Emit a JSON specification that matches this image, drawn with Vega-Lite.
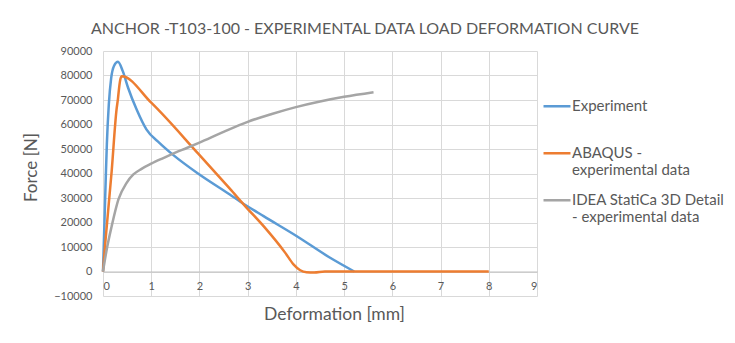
{
  "$schema": "https://vega.github.io/schema/vega-lite/v6.json",
  "autosize": "none",
  "width": 434,
  "height": 245,
  "padding": {"left": 103, "top": 51, "right": 198, "bottom": 47},
  "background": "white",
  "title": {
    "text": "ANCHOR -T103-100 - EXPERIMENTAL DATA LOAD DEFORMATION CURVE",
    "font": "Lato",
    "fontSize": 16,
    "fontWeight": "normal",
    "color": "#595959",
    "anchor": "middle",
    "dx": 45,
    "baseline": "alphabetic",
    "offset": -5
  },
  "config": {
    "view": {"stroke": null},
    "font": "Lato"
  },
  "data": {
    "values": [
      {"series": "Experiment", "d": 0, "f": 0},
      {"series": "Experiment", "d": 0.03, "f": 20000},
      {"series": "Experiment", "d": 0.06, "f": 40000},
      {"series": "Experiment", "d": 0.08, "f": 52000},
      {"series": "Experiment", "d": 0.12, "f": 68000},
      {"series": "Experiment", "d": 0.17, "f": 79000},
      {"series": "Experiment", "d": 0.23, "f": 84000},
      {"series": "Experiment", "d": 0.31, "f": 85600},
      {"series": "Experiment", "d": 0.41, "f": 81800},
      {"series": "Experiment", "d": 0.52, "f": 75000},
      {"series": "Experiment", "d": 0.7, "f": 66000},
      {"series": "Experiment", "d": 0.9, "f": 58000},
      {"series": "Experiment", "d": 1.18, "f": 52300},
      {"series": "Experiment", "d": 1.46, "f": 47500},
      {"series": "Experiment", "d": 1.97, "f": 40000},
      {"series": "Experiment", "d": 2.63, "f": 31400},
      {"series": "Experiment", "d": 2.84, "f": 28600},
      {"series": "Experiment", "d": 3.33, "f": 22600},
      {"series": "Experiment", "d": 4.02, "f": 14400},
      {"series": "Experiment", "d": 4.71, "f": 5600},
      {"series": "Experiment", "d": 5.21, "f": 0},
      {"series": "ABAQUS - experimental data", "d": 0, "f": 0},
      {"series": "ABAQUS - experimental data", "d": 0.04, "f": 10000},
      {"series": "ABAQUS - experimental data", "d": 0.18, "f": 41000},
      {"series": "ABAQUS - experimental data", "d": 0.28, "f": 66000},
      {"series": "ABAQUS - experimental data", "d": 0.31, "f": 70500},
      {"series": "ABAQUS - experimental data", "d": 0.34, "f": 76000},
      {"series": "ABAQUS - experimental data", "d": 0.36, "f": 78500},
      {"series": "ABAQUS - experimental data", "d": 0.39, "f": 79700},
      {"series": "ABAQUS - experimental data", "d": 1.0, "f": 68900},
      {"series": "ABAQUS - experimental data", "d": 1.97, "f": 48200},
      {"series": "ABAQUS - experimental data", "d": 2.63, "f": 33800},
      {"series": "ABAQUS - experimental data", "d": 2.98, "f": 26000},
      {"series": "ABAQUS - experimental data", "d": 3.33, "f": 18500},
      {"series": "ABAQUS - experimental data", "d": 3.78, "f": 7600},
      {"series": "ABAQUS - experimental data", "d": 3.95, "f": 2900},
      {"series": "ABAQUS - experimental data", "d": 4.09, "f": 500},
      {"series": "ABAQUS - experimental data", "d": 4.22, "f": -300},
      {"series": "ABAQUS - experimental data", "d": 4.38, "f": -400},
      {"series": "ABAQUS - experimental data", "d": 4.6, "f": 0},
      {"series": "ABAQUS - experimental data", "d": 5.5, "f": 0},
      {"series": "ABAQUS - experimental data", "d": 6.5, "f": 0},
      {"series": "ABAQUS - experimental data", "d": 8.0, "f": 0},
      {"series": "IDEA StatiCa 3D Detail - experimental data", "d": 0, "f": 0},
      {"series": "IDEA StatiCa 3D Detail - experimental data", "d": 0.077, "f": 9000},
      {"series": "IDEA StatiCa 3D Detail - experimental data", "d": 0.18, "f": 18500},
      {"series": "IDEA StatiCa 3D Detail - experimental data", "d": 0.32, "f": 29400},
      {"series": "IDEA StatiCa 3D Detail - experimental data", "d": 0.49, "f": 36200},
      {"series": "IDEA StatiCa 3D Detail - experimental data", "d": 0.63, "f": 39600},
      {"series": "IDEA StatiCa 3D Detail - experimental data", "d": 0.8, "f": 41900},
      {"series": "IDEA StatiCa 3D Detail - experimental data", "d": 1.0, "f": 44000},
      {"series": "IDEA StatiCa 3D Detail - experimental data", "d": 1.25, "f": 46300},
      {"series": "IDEA StatiCa 3D Detail - experimental data", "d": 1.5, "f": 48500},
      {"series": "IDEA StatiCa 3D Detail - experimental data", "d": 1.75, "f": 50500},
      {"series": "IDEA StatiCa 3D Detail - experimental data", "d": 2.0, "f": 52600},
      {"series": "IDEA StatiCa 3D Detail - experimental data", "d": 2.5, "f": 57000},
      {"series": "IDEA StatiCa 3D Detail - experimental data", "d": 3.0, "f": 61100},
      {"series": "IDEA StatiCa 3D Detail - experimental data", "d": 3.5, "f": 64300},
      {"series": "IDEA StatiCa 3D Detail - experimental data", "d": 4.0, "f": 67100},
      {"series": "IDEA StatiCa 3D Detail - experimental data", "d": 4.5, "f": 69400},
      {"series": "IDEA StatiCa 3D Detail - experimental data", "d": 5.0, "f": 71300},
      {"series": "IDEA StatiCa 3D Detail - experimental data", "d": 5.61, "f": 73200}
    ]
  },
  "mark": {"type": "line", "strokeWidth": 2.5, "interpolate": "monotone"},
  "encoding": {
    "x": {
      "field": "d",
      "type": "quantitative",
      "scale": {"domain": [0, 9], "nice": false, "zero": false},
      "axis": {
        "title": "Deformation [mm]",
        "values": [0, 1, 2, 3, 4, 5, 6, 7, 8, 9],
        "offset": -24.5,
        "ticks": false,
        "grid": true,
        "gridColor": "#D9D9D9",
        "gridWidth": 1,
        "domainColor": "#BFBFBF",
        "domainWidth": 1,
        "labelFont": "Lato",
        "labelFontSize": 11,
        "labelColor": "#595959",
        "labelPadding": 9,
        "titleFont": "Lato",
        "titleFontSize": 17.5,
        "titleFontWeight": "normal",
        "titleColor": "#595959",
        "titlePadding": 14,
        "titleX": 231
      }
    },
    "y": {
      "field": "f",
      "type": "quantitative",
      "scale": {"domain": [-10000, 90000], "nice": false, "zero": false},
      "axis": {
        "title": "Force [N]",
        "values": [-10000, 0, 10000, 20000, 30000, 40000, 50000, 60000, 70000, 80000, 90000],
        "format": "d",
        "domain": false,
        "ticks": false,
        "grid": true,
        "gridColor": "#D9D9D9",
        "gridWidth": 1,
        "labelFont": "Lato",
        "labelFontSize": 11,
        "labelColor": "#595959",
        "labelPadding": 11,
        "titleFont": "Lato",
        "titleFontSize": 17,
        "titleFontWeight": "normal",
        "titleColor": "#595959",
        "titlePadding": 13,
        "titleY": 116
      }
    },
    "color": {
      "field": "series",
      "type": "nominal",
      "scale": {
        "domain": ["Experiment", "ABAQUS - experimental data", "IDEA StatiCa 3D Detail - experimental data"],
        "range": ["#5B9BD5", "#ED7D31", "#A5A5A5"]
      },
      "legend": {
        "title": null,
        "orient": "none",
        "legendX": 439,
        "legendY": 45,
        "padding": 0,
        "symbolType": "M-1,-0.35L1,-0.35",
        "symbolSize": 729,
        "symbolStrokeWidth": 2.5,
        "symbolFillColor": "transparent",
        "labelFont": "Lato",
        "labelFontSize": 15,
        "labelColor": "#595959",
        "labelLimit": 220,
        "labelOffset": 0,
        "labelBaseline": "alphabetic",
        "labelLineHeight": 19,
        "rowPadding": 12,
        "labelExpr": "datum.label == 'Experiment' ? ['Experiment', '\u00a0'] : datum.label == 'ABAQUS - experimental data' ? ['ABAQUS -', 'experimental data'] : ['IDEA StatiCa 3D Detail', '- experimental data']"
      }
    }
  }
}
